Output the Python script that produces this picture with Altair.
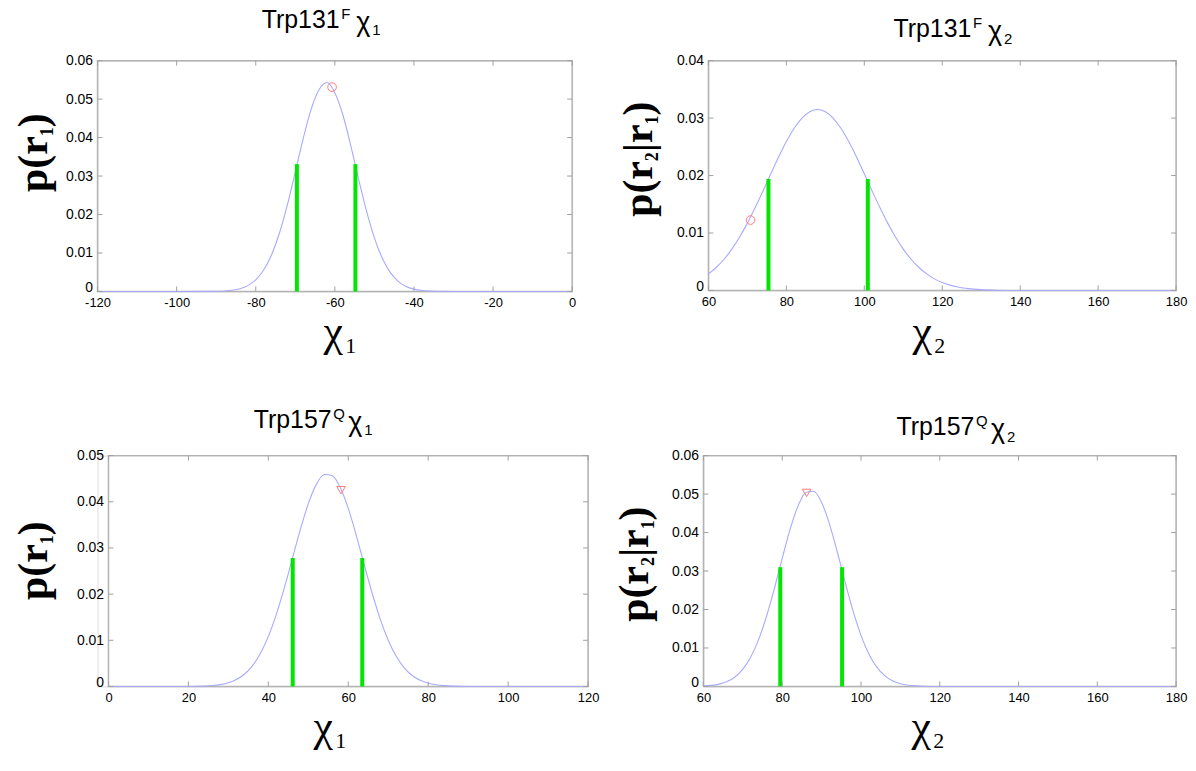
import altair as alt
import pandas as pd

# ---------------- data ----------------
# Panel 1: Trp131F chi1
p1_x = [-120, -100, -92, -90, -88, -86, -84, -82, -80, -78, -76, -74, -72, -70, -68, -66, -64, -62,
        -60, -58, -56, -54, -52, -50, -48, -46, -44, -42, -40, -38, -36, -34, -30, -20, 0]
p1_y = [0, 0, 0.00001, 0.00005, 0.00013, 0.00031, 0.00071, 0.00152, 0.00302, 0.00556, 0.00954,
        0.01520, 0.02252, 0.03103, 0.03975, 0.04735, 0.05243, 0.05430, 0.05167, 0.04599, 0.03805,
        0.02927, 0.02094, 0.01392, 0.00861, 0.00495, 0.00264, 0.00131, 0.00061, 0.00026, 0.00010,
        0.00004, 0, 0, 0]
p1_vx = [-69.6, -54.8]
p1_vtop = [0.0331, 0.0331]
p1_mx = [-60.7]
p1_my = [0.0531]

# Panel 2: Trp131F chi2
p2_x = [60, 62, 64, 66, 68, 70, 72, 74, 76, 78, 80, 82, 84, 86, 88, 90, 92, 94, 96, 98, 100, 102,
        104, 106, 108, 110, 112, 114, 116, 118, 120, 122, 124, 126, 128, 130, 134, 140, 160, 180]
p2_y = [0.00288, 0.00400, 0.00543, 0.00719, 0.00930, 0.01172, 0.01442, 0.01732, 0.02030, 0.02322,
        0.02591, 0.02822, 0.03000, 0.03112, 0.03150, 0.03112, 0.03000, 0.02822, 0.02591, 0.02322,
        0.02030, 0.01732, 0.01442, 0.01172, 0.00930, 0.00719, 0.00543, 0.00400, 0.00288, 0.00202,
        0.00138, 0.00093, 0.00060, 0.00038, 0.00024, 0.00014, 0.00005, 0, 0, 0]
p2_vx = [75.4, 100.9]
p2_vtop = [0.0194, 0.0194]
p2_mx = [70.8]
p2_my = [0.01225]

# Panel 3: Trp157Q chi1
p3_x = [0, 10, 20, 24, 26, 28, 30, 32, 34, 36, 38, 40, 42, 44, 46, 48, 50, 52, 54, 56, 58, 60, 62,
        64, 66, 68, 70, 72, 74, 76, 78, 80, 82, 84, 86, 90, 100, 120]
p3_y = [0, 0, 0, 0.00009, 0.00019, 0.00040, 0.00079, 0.00149, 0.00265, 0.00447, 0.00715, 0.01085,
        0.01562, 0.02134, 0.02764, 0.03397, 0.03959, 0.04377, 0.04591, 0.04566, 0.04308, 0.03856,
        0.03274, 0.02636, 0.02013, 0.01459, 0.01002, 0.00653, 0.00404, 0.00237, 0.00132, 0.00070,
        0.00035, 0.00017, 0.00007, 0, 0, 0]
p3_vx = [46.1, 63.5]
p3_vtop = [0.0278, 0.0278]
p3_mx = [58.2]
p3_my = [0.0425]

# Panel 4: Trp157Q chi2
p4_x = [60, 62, 64, 66, 68, 70, 72, 74, 76, 78, 80, 82, 84, 86, 88, 90, 92, 94, 96, 98, 100, 102,
        104, 106, 108, 110, 112, 114, 116, 120, 140, 160, 180]
p4_y = [0.00012, 0.00028, 0.00061, 0.00127, 0.00247, 0.00449, 0.00765, 0.01218, 0.01819, 0.02544,
        0.03331, 0.04084, 0.04688, 0.05040, 0.05073, 0.04782, 0.04220, 0.03488, 0.02699, 0.01956,
        0.01328, 0.00843, 0.00502, 0.00280, 0.00146, 0.00071, 0.00033, 0.00014, 0.00005, 0, 0, 0, 0]
p4_vx = [79.5, 95.2]
p4_vtop = [0.031, 0.031]
p4_mx = [86.2]
p4_my = [0.0503]

# tick values
p1_xt = [-120, -100, -80, -60, -40, -20, 0]
p1_yt = [0, 0.01, 0.02, 0.03, 0.04, 0.05, 0.06]
p2_xt = [60, 80, 100, 120, 140, 160, 180]
p2_yt = [0, 0.01, 0.02, 0.03, 0.04]
p3_xt = [0, 20, 40, 60, 80, 100, 120]
p3_yt = [0, 0.01, 0.02, 0.03, 0.04, 0.05]
p4_xt = [60, 80, 100, 120, 140, 160, 180]
p4_yt = [0, 0.01, 0.02, 0.03, 0.04, 0.05, 0.06]

# text
title_main = ["Trp131", "Trp131", "Trp157", "Trp157"]
title_sup = ["F", "F", "Q", "Q"]
title_sub = ["1", "2", "1", "2"]
chi = "\u03c7"
# y-axis label pieces: (text, is_subscript)
y_label_parts = [
    [("p(r", False), ("1", True), (")", False)],
    [("p(r", False), ("2", True), ("|r", False), ("1", True), (")", False)],
    [("p(r", False), ("1", True), (")", False)],
    [("p(r", False), ("2", True), ("|r", False), ("1", True), (")", False)],
]

SANS = "Liberation Sans"
SERIF = "Liberation Serif"
CURVE = "#a9a9ff"
GREEN = "#00e600"
RED = "#ff7a7a"
TICK = "#a0a0a0"
FRAME = "#b3b3b3"

# Times/Liberation Serif Bold advance widths (em)
ADV = {"p": 0.556, "(": 0.333, ")": 0.333, "r": 0.444, "|": 0.22, "1": 0.5, "2": 0.5}
YFS = 42
YSUB = 18


def panel(i, xs, ys, vx, vtop, mx, my, shape, xdom, ydom, xt, yt, w, h,
          tx, tbase, ybx, yby, chx, chy, off=0):
    xsc = alt.Scale(domain=xdom, nice=False, zero=False, range=[off, off + w])
    ysc = alt.Scale(domain=ydom, nice=False)
    curve = pd.DataFrame({"x": xs, "y": ys})
    xaxis = alt.Axis(values=xt, title=None, ticks=False, domain=False, grid=False,
                     labelFlush=False, labelExpr="'' + datum.value", labelFont=SANS,
                     labelFontSize=13, labelColor="#000", labelPadding=5)
    yaxis_kw = dict(values=yt, title=None, ticks=False, domain=False, grid=False,
                    labelExpr="datum.value == 0 ? '0' : format(datum.value, '.2f')",
                    labelFont=SANS, labelFontSize=14, labelColor="#000", labelPadding=5,
                    labelOffset={"condition": {"test": "datum.value === 0", "value": -4},
                                 "value": 0})
    if off:
        yaxis_kw["offset"] = -off
    yaxis = alt.Axis(**yaxis_kw)

    def X(f):
        return alt.X(f, scale=xsc, axis=xaxis)

    def Y(f):
        return alt.Y(f, scale=ysc, axis=yaxis)

    frame = alt.Chart(pd.DataFrame({"k": [0]})).mark_rect(
        fillOpacity=0, stroke=FRAME, strokeWidth=1.5
    ).encode(x=alt.value(off), x2=alt.value(off + w), y=alt.value(0), y2=alt.value(h))
    line = alt.Chart(curve).mark_line(color=CURVE, strokeWidth=1.1, interpolate="monotone").encode(
        x=X("x:Q"), y=Y("y:Q"))
    vdf = pd.DataFrame({"x": vx, "top": vtop, "base": [0] * len(vx)})
    vlines = alt.Chart(vdf).mark_rule(color=GREEN, strokeWidth=4).encode(
        x=X("x:Q"), y=Y("base:Q"), y2="top:Q")
    mdf = pd.DataFrame({"x": mx, "y": my})
    marker = alt.Chart(mdf).mark_point(shape=shape, filled=False, color=RED, size=75,
                                       strokeWidth=1, opacity=1).encode(x=X("x:Q"), y=Y("y:Q"))
    xtd = pd.DataFrame({"v": xt})
    ytd = pd.DataFrame({"v": yt})
    tb = alt.Chart(xtd).mark_rule(color=TICK, strokeWidth=1).encode(
        x=X("v:Q"), y=alt.value(h), y2=alt.value(h - 5))
    tt = alt.Chart(xtd).mark_rule(color=TICK, strokeWidth=1).encode(
        x=X("v:Q"), y=alt.value(0), y2=alt.value(5))
    tl = alt.Chart(ytd).mark_rule(color=TICK, strokeWidth=1).encode(
        y=Y("v:Q"), x=alt.value(off), x2=alt.value(off + 5))
    tr = alt.Chart(ytd).mark_rule(color=TICK, strokeWidth=1).encode(
        y=Y("v:Q"), x=alt.value(off + w), x2=alt.value(off + w - 5))

    def txt(s, px, py, size, font=SANS, weight="normal", angle=0):
        return alt.Chart(pd.DataFrame({"t": [s]})).mark_text(
            font=font, fontSize=size, fontWeight=weight, align="left", baseline="alphabetic",
            color="#000", angle=angle
        ).encode(text="t:N", x=alt.value(off + px), y=alt.value(py))

    layers = [frame, line, vlines, marker, tb, tt, tl, tr]
    # panel title
    layers.append(txt(title_main[i], tx, tbase, 25))
    layers.append(txt(title_sup[i], tx + 80, tbase - 9, 15))
    layers.append(txt(chi, tx + 95, tbase + 3, 27))
    layers.append(txt(title_sub[i], tx + 111, tbase + 7, 15))
    # y label (rotated, reads bottom to top)
    pos = yby
    for s, sub in y_label_parts[i]:
        fs = YSUB if sub else YFS
        layers.append(txt(s, ybx + (6 if sub else 0), pos, fs, SERIF, "bold", 270))
        pos -= sum(ADV[c] for c in s) * fs
    # x label
    layers.append(txt(chi, chx, h + chy, 44, SERIF, "normal"))
    layers.append(txt(title_sub[i], chx + 22, h + chy + 7, 22, SERIF, "normal"))
    return alt.layer(*layers).properties(width=off + w, height=h)


c1 = panel(0, p1_x, p1_y, p1_vx, p1_vtop, p1_mx, p1_my, "circle", [-120, 0], [0, 0.06],
           p1_xt, p1_yt, 477, 232, 165, -33, -51, 132, 227, 55)
c2 = panel(1, p2_x, p2_y, p2_vx, p2_vtop, p2_mx, p2_my, "circle", [60, 180], [0, 0.04],
           p2_xt, p2_yt, 470, 231, 186, -24, -57, 157, 205, 56)
c3 = panel(2, p3_x, p3_y, p3_vx, p3_vtop, p3_mx, p3_my, "triangle-down", [0, 120], [0, 0.05],
           p3_xt, p3_yt, 482, 232, 146, -28, -62, 145, 206, 55, off=11)
c4 = panel(3, p4_x, p4_y, p4_vx, p4_vtop, p4_mx, p4_my, "triangle-down", [60, 180], [0, 0.06],
           p4_xt, p4_yt, 475, 232, 194, -21, -56, 167, 209, 55)

row1 = alt.hconcat(c1, c2, spacing=40)
row2 = alt.hconcat(c3, c4, spacing=13)
chart = alt.vconcat(row1, row2, spacing=48,
                    padding={"top": -4, "left": 4, "right": 0, "bottom": 0}).configure_view(
    stroke="transparent"
).configure(background="white")

chart.save("out.html", embed_options={"renderer": "svg", "actions": False})
